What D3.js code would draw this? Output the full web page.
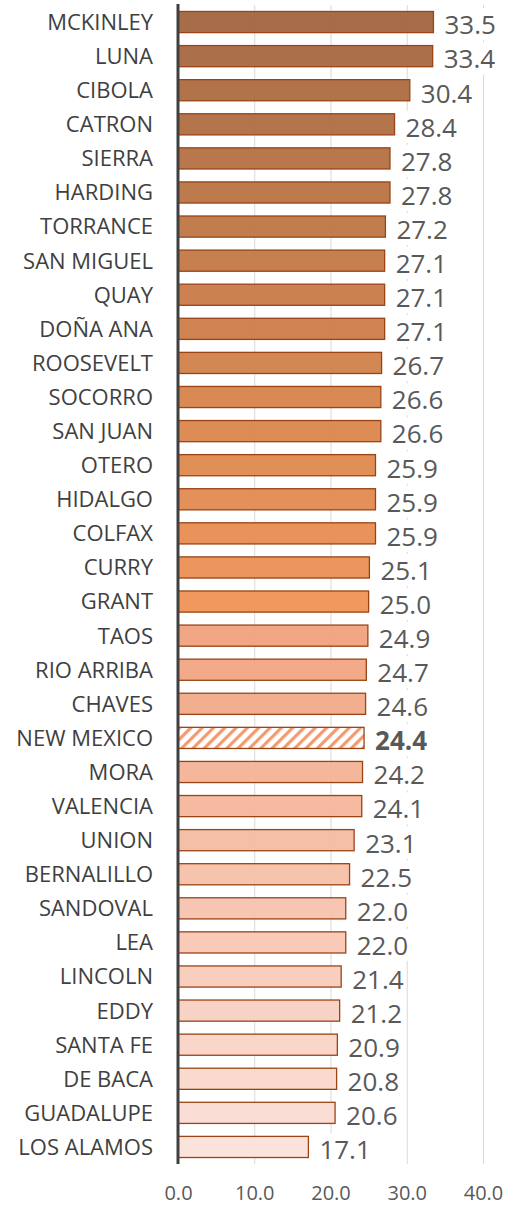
<!DOCTYPE html>
<html>
<head>
<meta charset="utf-8">
<script src="https://cdn.jsdelivr.net/npm/d3@7"></script>
<style>
  html, body { margin: 0; padding: 0; background: #fff; }
  svg { display: block; }
</style>
</head>
<body>
<svg id="chart" width="506" height="1206"></svg>
<script>
// County values (percent), listed top to bottom
const counties = [
  "MCKINLEY", "LUNA", "CIBOLA", "CATRON", "SIERRA", "HARDING", "TORRANCE",
  "SAN MIGUEL", "QUAY", "DOÑA ANA", "ROOSEVELT", "SOCORRO", "SAN JUAN",
  "OTERO", "HIDALGO", "COLFAX", "CURRY", "GRANT", "TAOS", "RIO ARRIBA",
  "CHAVES", "NEW MEXICO", "MORA", "VALENCIA", "UNION", "BERNALILLO",
  "SANDOVAL", "LEA", "LINCOLN", "EDDY", "SANTA FE", "DE BACA",
  "GUADALUPE", "LOS ALAMOS"
];
const values = [
  33.5, 33.4, 30.4, 28.4, 27.8, 27.8, 27.2,
  27.1, 27.1, 27.1, 26.7, 26.6, 26.6,
  25.9, 25.9, 25.9, 25.1, 25.0, 24.9, 24.7,
  24.6, 24.4, 24.2, 24.1, 23.1, 22.5,
  22.0, 22.0, 21.4, 21.2, 20.9, 20.8,
  20.6, 17.1
];
const stateName = "NEW MEXICO";
const xTicks = [0, 10, 20, 30, 40];

const data = counties.map((name, i) => ({ name, value: values[i], i }));

const svg = d3.select("#chart");
const margin = { top: 5, right: 23, bottom: 42, left: 178 };
const width = 506, height = 1206;
const font = "'Open Sans', 'Noto Sans', sans-serif";

const x = d3.scaleLinear().domain([0, 40]).range([margin.left, width - margin.right]);
const y = d3.scaleBand()
  .domain(counties)
  .range([margin.top, height - margin.bottom])
  .paddingInner(0.38)
  .paddingOuter(0.19);

// Shade ramp: brown to orange for the upper group, salmon to pale pink below
const color = d3.scaleLinear()
  .domain([0, 12, 17, 18, 33])
  .range(["#a0623a", "#da8348", "#ef9052", "#f0a07a", "#fbe0d8"])
  .interpolate(d3.interpolateRgb);

// Hatch pattern for the state total
const defs = svg.append("defs");
const pat = defs.append("pattern")
  .attr("id", "hatch")
  .attr("patternUnits", "userSpaceOnUse")
  .attr("width", 8).attr("height", 8)
  .attr("patternTransform", "rotate(-45)");
pat.append("rect").attr("width", 8).attr("height", 8).attr("fill", "#fff");
pat.append("rect").attr("width", 8).attr("height", 3.2).attr("fill", "#f29a70");

// Vertical gridlines
svg.append("g")
  .selectAll("line")
  .data(xTicks.filter(d => d > 0))
  .join("line")
  .attr("x1", d => x(d) + 0.5).attr("x2", d => x(d) + 0.5)
  .attr("y1", margin.top).attr("y2", height - margin.bottom)
  .attr("stroke", "#d9d9d9").attr("stroke-width", 1);

// Bars
svg.append("g")
  .selectAll("rect")
  .data(data)
  .join("rect")
  .attr("x", x(0))
  .attr("y", d => y(d.name))
  .attr("width", d => x(d.value) - x(0))
  .attr("height", y.bandwidth())
  .attr("fill", d => d.name === stateName ? "url(#hatch)" : color(d.i))
  .attr("fill-opacity", d => d.name === stateName ? 1 : 0.93)
  .attr("stroke", "#9a4416")
  .attr("stroke-width", 1.3);

// Category labels
svg.append("g")
  .selectAll("text")
  .data(data)
  .join("text")
  .attr("x", margin.left - 25)
  .attr("y", d => y(d.name) + y.bandwidth() / 2)
  .attr("dy", "0.36em")
  .attr("text-anchor", "end")
  .attr("font-family", font)
  .attr("font-size", 22)
  .attr("fill", "#404040")
  .text(d => d.name);

// Value labels with white backing so gridlines stop behind them
const vg = svg.append("g");
const vals = vg.selectAll("g")
  .data(data)
  .join("g");
const vt = vals.append("text")
  .attr("x", d => x(d.value) + 11)
  .attr("y", d => y(d.name) + y.bandwidth() / 2 + 3)
  .attr("dy", "0.36em")
  .attr("font-family", font)
  .attr("font-size", 26)
  .attr("font-weight", d => d.name === stateName ? "bold" : "normal")
  .attr("fill", "#595959")
  .text(d => d3.format(".1f")(d.value));
vt.each(function() {
  const b = this.getBBox();
  d3.select(this.parentNode).insert("rect", "text")
    .attr("x", b.x - 2).attr("y", b.y + 2)
    .attr("width", b.width + 4).attr("height", b.height - 4)
    .attr("fill", "#fff");
});

// Zero axis line
svg.append("line")
  .attr("x1", x(0)).attr("x2", x(0))
  .attr("y1", margin.top - 1).attr("y2", height - margin.bottom)
  .attr("stroke", "#404040").attr("stroke-width", 3);

// Bottom tick labels
const axis = d3.axisBottom(x).tickValues(xTicks).tickFormat(d3.format(".1f")).tickSize(0).tickPadding(0);
const ag = svg.append("g")
  .attr("transform", `translate(0, ${height - margin.bottom + 22})`)
  .call(axis);
ag.select(".domain").remove();
ag.selectAll("text")
  .attr("font-family", font)
  .attr("font-size", 20)
  .attr("fill", "#595959");
</script>
</body>
</html>
